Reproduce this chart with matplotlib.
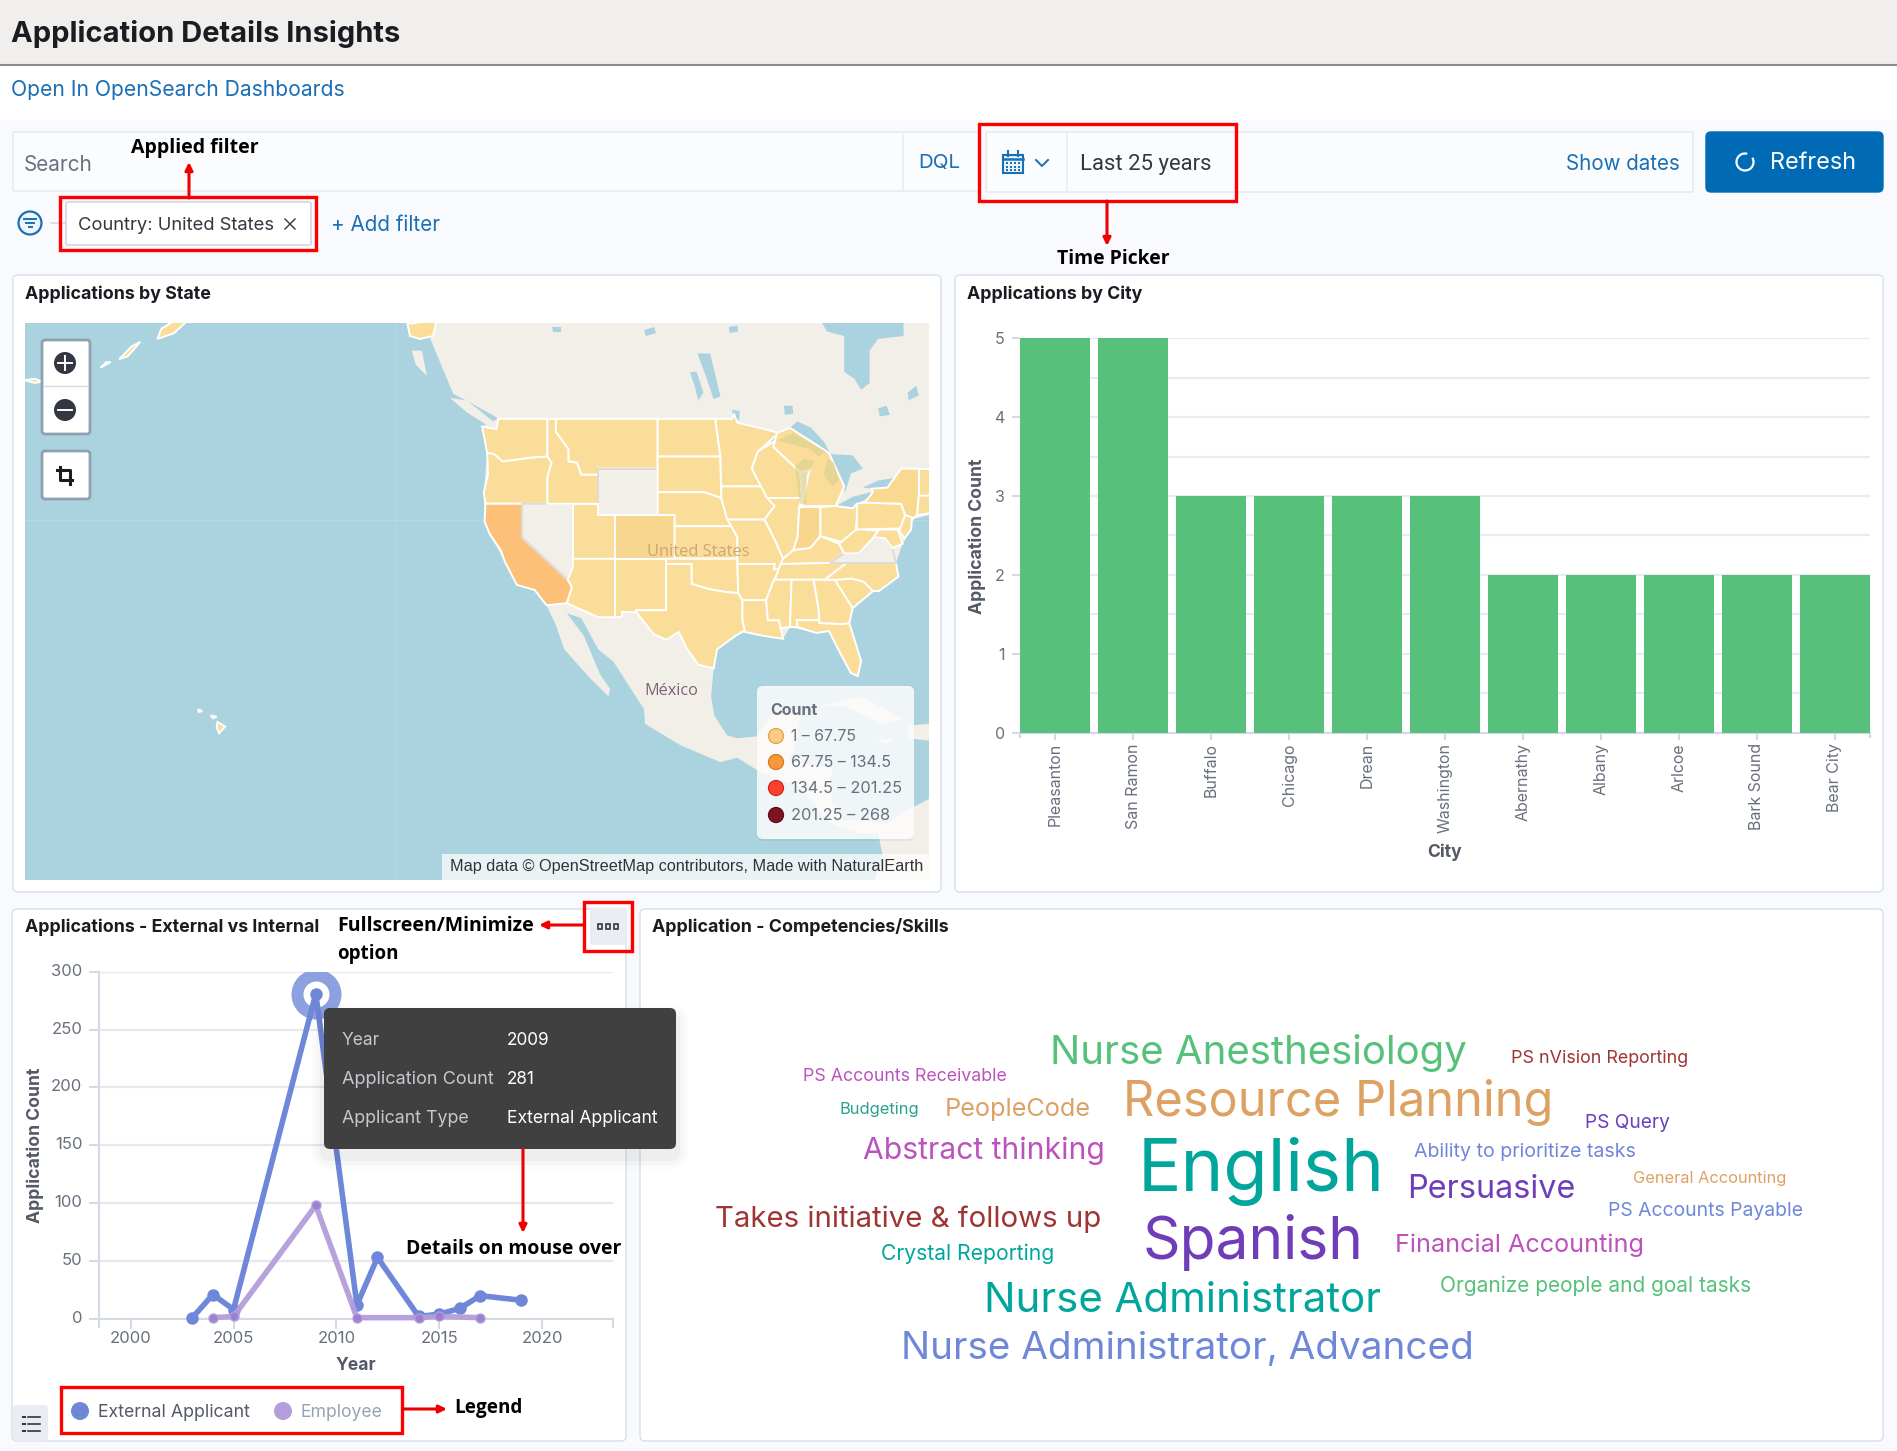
# Application Details Insights dashboard screenshot
import numpy as np
import matplotlib
matplotlib.use('Agg')
import matplotlib.pyplot as plt
from matplotlib.patches import FancyBboxPatch, Rectangle, Circle
from matplotlib.transforms import ScaledTranslation

W, H = 1897, 1451
plt.rcParams['font.family'] = ['Inter', 'DejaVu Sans']

# chart data
cities = ['Pleasanton', 'San Ramon', 'Buffalo', 'Chicago', 'Drean', 'Washington',
          'Abernathy', 'Albany', 'Arlcoe', 'Bark Sound', 'Bear City']
city_counts = [5, 5, 3, 3, 3, 3, 2, 2, 2, 2, 2]

ext_years = [2003, 2004, 2005, 2009, 2011, 2012, 2014, 2015, 2016, 2017, 2019]
ext_counts = [1, 21, 8, 281, 12, 53, 2, 4, 9, 20, 16]
emp_years = [2004, 2005, 2009, 2011, 2014, 2015, 2017]
emp_counts = [1, 2, 98, 1, 1, 2, 1]

legend_ranges = ['1 – 67.75', '67.75 – 134.5', '134.5 – 201.25', '201.25 – 268']
legend_cols = ['#fdcb83', '#f9983a', '#fd3f2d', '#7f1220']
legend_edges = ['#e0a050', '#d27a20', '#cc2a1a', '#5f0c18']
state_fill = ['#f9dd98', '#fcc078', '#f1402e', '#7f1220']
bucket_edges = [1, 67.75, 134.5, 201.25, 268]

cloud_words = ['Nurse Anesthesiology', 'PS nVision Reporting', 'PS Accounts Receivable', 'Budgeting',
               'PeopleCode', 'Resource Planning', 'PS Query', 'Abstract thinking', 'English',
               'Ability to prioritize tasks', 'General Accounting', 'Persuasive', 'PS Accounts Payable',
               'Takes initiative & follows up', 'Spanish', 'Financial Accounting', 'Crystal Reporting',
               'Nurse Administrator', 'Organize people and goal tasks', 'Nurse Administrator, Advanced']
cloud_cols = ['#57c17b', '#9e3533', '#bc52bc', '#2ba08e', '#dda163', '#dda163', '#6a3fc0', '#bc52bc',
              '#00a69b', '#6f87d8', '#dda163', '#6f3db8', '#6f87d8', '#9e3533', '#6f3db8', '#bc52bc',
              '#00a69b', '#00a69b', '#57c17b', '#6f87d8']
# left, right, centre y in the 1568 wide view
cloud_x0 = [868, 1249, 664, 694, 781, 928, 1310, 713, 940, 1169, 1350, 1163, 1329, 591, 944, 1153, 728, 813, 1190, 745]
cloud_x1 = [1214, 1396, 833, 760, 902, 1284, 1380, 913, 1145, 1353, 1477, 1302, 1490, 911, 1127, 1359, 871, 1141, 1448, 1219]
cloud_y = [868, 874, 889, 916, 916, 909, 927, 950, 965, 951, 973, 982, 1000, 1006, 1024, 1028, 1035, 1073, 1062, 1113]

# rough state outlines, lon/lat
states = {
    'WA': [(-124.7,48.4),(-123,48.2),(-122.8,49),(-117,49),(-117,46),(-119,45.9),(-121,45.7),(-122.3,45.6),(-123.3,46.2),(-124.1,46.3)],
    'OR': [(-124.1,46.3),(-123.3,46.2),(-122.3,45.6),(-121,45.7),(-119,45.9),(-117,46),(-116.5,45.5),(-117,44.3),(-117,42),(-124.3,42),(-124.5,43),(-124,44.5)],
    'CA': [(-124.3,42),(-120,42),(-120,39),(-114.6,35),(-114.1,34.3),(-114.7,32.7),(-117.1,32.5),(-118.5,34),(-120.6,34.5),(-122,36.7),(-122.5,37.8),(-123.8,39.3),(-124.4,40.4)],
    'NV': [(-120,42),(-114,42),(-114,36.2),(-114.6,35),(-120,39)],
    'ID': [(-117,49),(-116,49),(-116,48),(-114.5,46.6),(-114.5,45.6),(-113.5,45.5),(-113,44.5),(-111,44.5),(-111,42),(-117,42),(-117,44.3),(-116.5,45.5),(-117,46)],
    'MT': [(-116,49),(-104,49),(-104,45),(-111,45),(-111,44.5),(-113,44.5),(-113.5,45.5),(-114.5,45.6),(-114.5,46.6),(-116,48)],
    'WY': [(-111,45),(-104,45),(-104,41),(-111,41)],
    'UT': [(-114,42),(-111,42),(-111,41),(-109,41),(-109,37),(-114,37)],
    'CO': [(-109,41),(-102,41),(-102,37),(-109,37)],
    'AZ': [(-114,37),(-109,37),(-109,31.3),(-111,31.3),(-114.7,32.7),(-114.1,34.3),(-114.6,35),(-114,36.2)],
    'NM': [(-109,37),(-103,37),(-103,32),(-106.5,32),(-106.5,31.8),(-108.2,31.8),(-108.2,31.3),(-109,31.3)],
    'ND': [(-104,49),(-97.2,49),(-96.6,46),(-104,46)],
    'SD': [(-104,46),(-96.6,46),(-96.5,42.5),(-98.5,43),(-104,43)],
    'NE': [(-104,43),(-98.5,43),(-96.5,42.5),(-95.3,40),(-102,40),(-102,41),(-104,41)],
    'KS': [(-102,40),(-95.3,40),(-94.6,39),(-94.6,37),(-102,37)],
    'OK': [(-103,37),(-94.6,37),(-94.5,33.7),(-96,33.8),(-98,34.1),(-100,34.6),(-100,36.5),(-103,36.5)],
    'TX': [(-106.5,32),(-103,32),(-103,36.5),(-100,36.5),(-100,34.6),(-98,34.1),(-96,33.8),(-94.5,33.7),(-94,33),(-94,31),(-93.7,30),(-95,29.3),(-97,28),(-97.4,26),(-99.2,26.4),(-100.5,28),(-101.5,29.8),(-103,29),(-104.5,29.6),(-106.5,31.8)],
    'MN': [(-97.2,49),(-95.2,49),(-95,49.4),(-94.6,48.7),(-92,48.3),(-89.7,47.9),(-92.2,46.4),(-92.9,45),(-91.3,43.5),(-96.5,43.5),(-96.6,46)],
    'IA': [(-96.5,43.5),(-91.3,43.5),(-90.2,41.8),(-91.4,40.6),(-95.8,40.6),(-96.5,42.5)],
    'MO': [(-95.8,40.6),(-91.4,40.6),(-90.2,38.8),(-89.2,37),(-89.5,36),(-90.3,36),(-90.2,36.5),(-94.6,36.5),(-94.6,39),(-95.3,40)],
    'AR': [(-94.6,36.5),(-90.2,36.5),(-90.3,36),(-89.7,36),(-91.2,33),(-94,33),(-94.5,33.7)],
    'LA': [(-94,33),(-91.2,33),(-91,31),(-89.7,31),(-89.5,30.2),(-89.2,29.1),(-91.5,29.4),(-93.7,29.8),(-94,31)],
    'MI': [(-88.4,48.3),(-83.8,46.3),(-82,43.5),(-83,41.8),(-87,41.8),(-86.1,44.9),(-87.2,44.7),(-90.4,46.8),(-89.9,47.9)],
    'WI': [(-90.1,47.3),(-90.4,46.8),(-87.2,44.7),(-87,42.5),(-91.1,42.5),(-92.9,45),(-92.2,46.4)],
    'IL': [(-91.1,42.5),(-87,42.5),(-87.3,41.7),(-87.5,39),(-88,37.8),(-89.2,37),(-90.2,38.8),(-91.4,40.6),(-90.2,41.8)],
    'IN': [(-87.3,41.7),(-84.8,41.7),(-84.8,39.1),(-86,38),(-88,37.8),(-87.5,39)],
    'OH': [(-84.8,41.7),(-83,41.8),(-81,41.6),(-80.5,42),(-80.5,41),(-80.6,39.7),(-82,38.5),(-84.8,39.1)],
    'KY': [(-89.2,37),(-88,37.8),(-86,38),(-84.8,39.1),(-82.6,38.4),(-82,37.5),(-83.7,36.6),(-89.5,36.5)],
    'TN': [(-90.2,35),(-89.5,36.5),(-83.7,36.6),(-81.7,36.6),(-84.3,35)],
    'MS': [(-91.2,33),(-90.3,35),(-88.2,35),(-88.4,30.3),(-89.5,30.2),(-89.7,31),(-91,31)],
    'AL': [(-88.2,35),(-85.6,35),(-85,32),(-85,31),(-87.6,31),(-87.5,30.3),(-88.4,30.3)],
    'GA': [(-85.6,35),(-83.1,35),(-81,32.2),(-81.4,30.7),(-82.2,30.6),(-84.9,30.7),(-85,32)],
    'FL': [(-87.6,31),(-85,31),(-84.9,30.7),(-82.2,30.6),(-81.4,30.7),(-80,26.8),(-80.4,25.2),(-81.2,25.5),(-82.7,28),(-83.8,29.9),(-85.3,29.7),(-87.5,30.3)],
    'SC': [(-83.1,35),(-81,35.1),(-79.7,34.8),(-78.6,33.9),(-81,32.2)],
    'NC': [(-84.3,35),(-81.7,36.6),(-75.9,36.6),(-75.6,35.3),(-77.9,33.9),(-78.6,33.9),(-79.7,34.8),(-81,35.1),(-83.1,35)],
    'VA': [(-83.7,36.6),(-82,37.5),(-80.3,37.5),(-78.5,39),(-77.2,38.9),(-76.3,37.9),(-75.9,36.6),(-81.7,36.6)],
    'WV': [(-82,37.5),(-82.6,38.4),(-80.6,39.7),(-80.5,40.6),(-79.5,39.7),(-78,39.6),(-78.5,39),(-80.3,37.5)],
    'PA': [(-80.5,42),(-79.6,42.1),(-75.3,42),(-74.8,41),(-75.4,39.8),(-80.5,39.7)],
    'NY': [(-79.6,42.1),(-78.6,43),(-78.8,43.3),(-76.9,43.4),(-75.3,45),(-73.2,45),(-73.2,42.5),(-73.4,41),(-74,40.6),(-74.8,41),(-75.3,42)],
    'MD': [(-79.5,39.7),(-75.7,39.7),(-75.1,38.4),(-76.3,38),(-77.2,38.9),(-78.5,39),(-78,39.6)],
    'NJ': [(-74.8,41),(-74,40.8),(-74.1,39.7),(-74.9,38.9),(-75.5,39.6)],
    'VT': [(-73.2,45),(-71.5,45),(-71.5,42.7),(-73.2,42.7)],
    'MA': [(-73.2,42.7),(-71.5,42.7),(-71.5,41.2),(-73.4,41)],
    'AK': [(-159.5,56),(-161,55.2),(-163,54.8),(-162.5,55.5),(-161,56)],
    'AK2': [(-133.5,55.8),(-131,56),(-130.1,55.9),(-130.5,55),(-132,54.8),(-133.2,55)],
    'AK3': [(-165,54.6),(-166.5,53.6),(-167.5,53.4),(-166,54.3)],
    'AK4': [(-168.5,53.2),(-169.7,52.8),(-169,53.2)],
    'AK5': [(-178.6,51.9),(-177.5,51.7),(-176.5,51.8),(-177.5,52)],
    'HI': [(-155.9,20.2),(-155,19.7),(-155.7,18.95),(-156,19.6)],
    'HI2': [(-156.7,20.9),(-156,20.8),(-156.4,20.6)],
    'HI3': [(-158.2,21.6),(-157.7,21.4),(-158.1,21.3)],
}
# estimated counts per state, states missing here have no data
state_counts = {s: 20 for s in states}
state_counts['CA'] = 100
for s in ['WY', 'NV', 'VA']:
    state_counts.pop(s)
# slightly stronger shades seen inside the lowest bucket
state_tint = {'CO': '#f7d78f', 'IN': '#f8d68e', 'NY': '#f9d88f'}

land = [(-131,57),(-130.8,54.8),(-128.1,50.9),(-126,50.2),(-123.2,49.2),(-122.8,49),(-124.7,48.4),(-124.1,46.3),(-124.5,43),(-124.4,40.4),
        (-123.8,39.3),(-122,36.7),(-120.6,34.5),(-118.5,34),(-117.1,32.5),(-116,30.5),(-115,28),(-112,25),(-109.8,23),
        (-109.6,23.8),(-110.8,25.4),(-112.7,29.4),(-114.7,31.7),(-113,31.2),(-111,28),(-109.2,26.7),(-105.6,21.6),(-105.5,20),
        (-101.3,17.6),(-96.6,15.7),(-94.6,16.2),(-92.3,14.8),(-90,13.8),(-87.5,13),(-85.5,11),(-85,10),(-83,8.3),(-80,7.5),
        (-78,7.5),(-77.5,5),(-78.5,1.5),(-71,1.5),(-71,12),(-75.3,9.8),(-77,8.5),(-80,9),(-82,9),(-83.5,11),(-83.5,15),
        (-88.5,15.8),(-88,17),(-87,21.5),(-90.5,21),(-92.3,18.6),(-94.6,18.4),(-95.8,18.7),(-97.3,20.9),(-97.7,23),(-97.4,26),
        (-97,28),(-95,29.3),(-93.7,29.8),(-91.5,29.4),(-89.2,29.1),(-88.4,30.3),(-85.3,29.7),(-83.8,29.9),(-82.7,28),(-81.2,25.5),
        (-80.4,25.2),(-80,26.8),(-81.4,30.7),(-81,32.2),(-78.6,33.9),(-75.6,35.3),(-75.9,36.6),(-75.1,38.4),(-74.1,39.7),(-74,40.6),
        (-72,41),(-71,41),(-71,57)]
islands = [[(-85,21.9),(-80,23),(-75,20.5),(-77.5,20),(-82,22)],
           [(-74.5,19.8),(-72,20),(-71,18),(-74.5,18.4)],
           [(-78.4,18.4),(-76.3,18.2),(-77,17.8)],
           [(-128.5,50.6),(-126.5,50.4),(-123.4,48.8),(-124.1,48.5),(-126.5,49.5)],
           [(-133,54),(-131.8,54),(-131.2,52.2),(-132.5,53)]]
water = [[(-85.9,57),(-84,55.3),(-82,55),(-82,52.5),(-80.8,52),(-80,51.2),(-79,51.7),(-79,54),(-78,54.8),(-75,55),(-75,57)],
         [(-99.3,53.8),(-97.8,53.8),(-96.6,50.7),(-97.4,50.5),(-98.2,52)],
         [(-100.2,52.5),(-99.4,52.5),(-98.6,51),(-99.2,50.4),(-99.6,51.4)],
         [(-91,47.2),(-88.4,48.3),(-87.5,48.8),(-85.9,48.3),(-84.4,47.2),(-83.6,46.2),(-85,46.3),(-87,47)],
         [(-83.8,46.3),(-83.6,46.2),(-81,46.1),(-79.8,45),(-81.2,44.6),(-81.8,43.2),(-82,43),(-82,43.5)],
         [(-83,41.8),(-81,42.6),(-78.9,43),(-78.9,42.6),(-80.5,42),(-81,41.6)],
         [(-79.8,43.4),(-78,44),(-76.2,44.2),(-76.9,43.4),(-78.8,43.3)],
         [(-89.1,50),(-88.1,50),(-88,49.4),(-89,49.3)],
         [(-95.2,49.7),(-94.3,49.6),(-94.4,48.9),(-95.1,49)],
         [(-105.6,55.4),(-104.4,55.6),(-104.2,55.2),(-105.4,55)],
         [(-95.6,55.6),(-94.6,55.7),(-94.5,55.3),(-95.5,55.2)],
         [(-116.4,55.6),(-115.4,55.6),(-115.4,55.3),(-116.3,55.3)],
         [(-78,49.8),(-77,50),(-76.6,49.3),(-77.8,49.2)],
         [(-74.5,51),(-73.5,51.5),(-73.2,50.8),(-74.4,50.4)]]
# lake water that shows through the Michigan and Wisconsin fills
lake_tint = [[(-88,47.9),(-84.2,46.4),(-85,46),(-86,46.6),(-89.9,47.3)],
             [(-87.8,45.2),(-86.8,45.8),(-85.5,45.6),(-86.4,44.5),(-86.5,42),(-87.2,42),(-87.6,44)],
             [(-84,45.8),(-83.2,45.5),(-82.6,44),(-83.4,43.5),(-84.4,44.5)]]


def merc(lat):
    return np.log(np.tan(np.pi / 4 + np.radians(lat) / 2))


def px_axes(x0, y0, x1, y1, **kw):
    return fig.add_axes([x0 / W, 1 - y1 / H, (x1 - x0) / W, (y1 - y0) / H], **kw)


def txt(a, x0, y, s, x1=None, size=16, color='#343741', weight='normal', family=None, ha='left'):
    # size in pixels, if x1 is given scale the text to fit x0..x1
    kw = {'family': family} if family else {}
    t = a.text(x0, y, s, fontsize=size * 0.72, color=color, fontweight=weight, va='center', ha=ha, **kw)
    if x1 is not None:
        r = fig.canvas.get_renderer()
        w = t.get_window_extent(r).width
        t.set_fontsize(t.get_fontsize() * (x1 - x0) / w)
    if a in (bg, ov):
        # va=center sits a bit high against the screenshot
        t.set_y(y + 0.06 * t.get_fontsize() / 0.72)
    return t


def box(a, x0, y0, x1, y1, fc='white', ec='#d3dae6', lw=1, r=4, z=2, alpha=None):
    p = FancyBboxPatch((x0 + r, y0 + r), x1 - x0 - 2 * r, y1 - y0 - 2 * r, boxstyle=f'round,pad={r},rounding_size={r}',
                       fc=fc, ec=ec, lw=lw, zorder=z, alpha=alpha)
    a.add_patch(p)
    return p


def red_box(x0, y0, x1, y1):
    ov.add_patch(Rectangle((x0, y0), x1 - x0, y1 - y0, fc='none', ec='#fe0000', lw=2.4, zorder=20))


def red_arrow(x0, y0, x1, y1):
    ov.annotate('', xy=(x1, y1), xytext=(x0, y0), zorder=20,
                arrowprops=dict(arrowstyle='-|>,head_width=0.22,head_length=0.45', color='#ee0000', lw=2.2,
                                shrinkA=0, shrinkB=0))


fig = plt.figure(figsize=(W / 100, H / 100), dpi=100, facecolor='#f8fafd')

# background layer, pixel coordinates
bg = px_axes(0, 0, W, H, zorder=0)
bg.set_xlim(0, W)
bg.set_ylim(H, 0)
bg.axis('off')
ov = px_axes(0, 0, W, H, zorder=5)
ov.set_xlim(0, W)
ov.set_ylim(H, 0)
ov.axis('off')
ov.patch.set_alpha(0)

bg.add_patch(Rectangle((0, 0), W, 65, fc='#f1efed', ec='none'))
bg.add_patch(Rectangle((0, 65), W, 55, fc='white', ec='none'))
bg.plot([0, W], [65, 65], color='#8c8a88', lw=1.5)

blue = '#1a6fb5'
txt(bg, 11, 32, 'Application Details Insights', 400, size=30, color='#1a1c21', weight='bold')
txt(bg, 11, 89, 'Open In OpenSearch Dashboards', 344, size=22, color=blue)

# query bar
box(bg, 13, 132, 980, 191, fc='#fbfcfd', ec='#e3e8f0', r=1)
bg.plot([903, 903], [134, 189], color='#e9edf3', lw=1.2, zorder=3)
txt(bg, 24, 164, 'Search', 93, size=22, color='#69707d', weight='normal').set_zorder(4)
txt(bg, 918, 162, 'DQL', 960, size=21, color=blue).set_zorder(4)
box(bg, 986, 132, 1693, 192, fc='#fbfcfd', ec='#e3e8f0', r=1, z=3)
bg.plot([1067, 1067], [134, 190], color='#e9edf3', lw=1.2, zorder=4)
bg.add_patch(Rectangle((1003, 155), 20, 18, fc='#eaf3fa', ec=blue, lw=1.5, zorder=4))
bg.plot([1003, 1023], [159, 159], color=blue, lw=1.8, zorder=4)
bg.plot([1008, 1008], [151, 156], color=blue, lw=1.5, zorder=5)
bg.plot([1018, 1018], [151, 156], color=blue, lw=1.5, zorder=5)
for gy in [163, 166.5, 170]:
    for gx in [1007, 1011, 1015, 1019]:
        bg.add_patch(Rectangle((gx - 1, gy - 1), 2, 2, fc=blue, ec='none', zorder=5))
bg.plot([1036, 1042, 1048], [160, 166, 160], color=blue, lw=1.4, zorder=4)
txt(bg, 1080, 163, 'Last 25 years', 1212, size=21, color='#343741', family='Roboto').set_zorder(5)
txt(bg, 1566, 163, 'Show dates', 1680, size=21, color=blue).set_zorder(5)
box(bg, 1706, 132, 1883, 192, fc='#006bb4', ec='#006bb4', r=5)
bg.add_patch(matplotlib.patches.Arc((1745, 162), 17, 17, theta1=-30, theta2=285, ec='white', lw=1.6, zorder=5))
txt(bg, 1770, 162, 'Refresh', 1856, size=24, color='white').set_zorder(5)

# filter row
bg.add_patch(Circle((30, 223), 11.5, fc='#eef5fb', ec=blue, lw=1.6, zorder=3))
for dy, hw in zip([-4, 0, 4], [6, 4, 1.5]):
    bg.plot([30 - hw, 30 + hw], [223 + dy, 223 + dy], color=blue, lw=1.4, zorder=4)
bg.plot([51, 66], [223, 223], color='#d3dae6', lw=1.2)
box(bg, 66, 202, 311, 245, fc='white', ec='#c9d0dc', r=2)
txt(bg, 78, 224, 'Country: United States', 275, size=18, color='#343741').set_zorder(5)
bg.plot([285, 295], [219, 229], color='#343741', lw=1, zorder=5)
bg.plot([285, 295], [229, 219], color='#343741', lw=1, zorder=5)
txt(bg, 331, 224, '+ Add filter', 440, size=21, color=blue)

# panels
for x0, y0, x1, y1 in [(13, 275, 941, 892), (955, 275, 1883, 892), (12, 909, 626, 1441), (640, 909, 1883, 1441)]:
    box(bg, x0, y0, x1, y1, fc='white', ec='#d8dfea', r=5)
txt(bg, 25, 293, 'Applications by State', 211, size=18, color='#1a1c21', weight='bold').set_zorder(5)
txt(bg, 967, 293, 'Applications by City', 1142, size=18, color='#1a1c21', weight='bold').set_zorder(5)
txt(bg, 25, 926, 'Applications - External vs Internal', 319, size=18, color='#1a1c21', weight='bold').set_zorder(5)
txt(bg, 652, 926, 'Application - Competencies/Skills', 949, size=18, color='#1a1c21', weight='bold').set_zorder(5)

# map
mp = px_axes(25, 323, 929, 880, zorder=1)
mp.set_xlim(-178.6, -72)
mp.set_ylim(0.035, 1.181)
mp.axis('off')
mp.add_patch(Rectangle((-178.6, 0.035), 106.6, 1.146, fc='#aad3df', ec='none', zorder=0))
mp.axvline(-135, color='#b4d8e2', lw=1, zorder=0.5)
mp.axhline(merc(40.6), color='#b4d8e2', lw=1, zorder=0.5)
land_col = '#f2efe9'
mp.fill([p[0] for p in land], merc(np.array([p[1] for p in land])), fc=land_col, ec='none', zorder=1)
for isl in islands:
    mp.fill([p[0] for p in isl], merc(np.array([p[1] for p in isl])), fc=land_col, ec='none', zorder=1)
for lake in water:
    mp.fill([p[0] for p in lake], merc(np.array([p[1] for p in lake])), fc='#aad3df', ec='none', zorder=1.5)
for name, pts in states.items():
    if name in state_counts:
        b = np.searchsorted(bucket_edges, state_counts[name], side='left') - 1
        fc = state_tint.get(name, state_fill[max(b, 0)])
    else:
        fc = land_col
    mp.fill([p[0] for p in pts], merc(np.array([p[1] for p in pts])), fc=fc,
            ec='white' if name in state_counts else '#dedbd6', lw=1.4, zorder=2)
for t_pts in lake_tint:
    mp.fill([p[0] for p in t_pts], merc(np.array([p[1] for p in t_pts])), fc='#d9d08e', ec='none', alpha=0.6, zorder=2.5)

# map labels
txt(ov, 647, 551, 'United States', 750, size=15, color='#c99a70', family='Open Sans').set_alpha(0.85)
txt(ov, 644, 690, 'México', 698, size=15, color='#7e6378', family='Open Sans')

# map controls
box(ov, 42, 340, 90, 434, fc='white', ec='#8ca2ad', lw=2, r=3)
box(ov, 42, 451, 90, 499, fc='white', ec='#8ca2ad', lw=2, r=3)
ov.plot([44, 88], [386, 386], color='#d3dae6', lw=1, zorder=3)
for cy, sign in [(363, '+'), (410, '-')]:
    ov.add_patch(Circle((65, cy), 11, fc='#343741', ec='none', zorder=3))
    ov.plot([58, 72], [cy, cy], color='white', lw=1.4, zorder=4)
    if sign == '+':
        ov.plot([65, 65], [cy - 7, cy + 7], color='white', lw=1.4, zorder=4)
ov.plot([60, 60, 72], [467, 480, 480], color='#1a1c21', lw=2.2, zorder=3)
ov.plot([57, 70, 70], [470, 470, 484], color='#1a1c21', lw=2.2, zorder=3)

# map legend
box(ov, 757, 688, 914, 841, fc='black', ec='none', r=6, alpha=0.05)
box(ov, 757, 686, 914, 839, fc='white', ec='none', r=6, alpha=0.85)
txt(ov, 770, 710, 'Count', 817, size=17, color='#69707d', weight='bold').set_zorder(5)
for i, (lab, col) in enumerate(zip(legend_ranges, legend_cols)):
    y = [736, 762, 788, 815][i]
    ov.add_patch(Circle((776, y), 7.5, fc=col, ec=legend_edges[i], lw=0.9, zorder=4))
    txt(ov, 791, y, lab, [856, 891, 902, 890][i], size=17, color='#69707d').set_zorder(5)

ov.add_patch(Rectangle((442, 854), 487, 26, fc='white', ec='none', alpha=0.75, zorder=3))
txt(ov, 450, 866, 'Map data © OpenStreetMap contributors, Made with NaturalEarth', 922, size=16,
    color='#333333', family='Liberation Sans').set_zorder(4)

# bar chart
bar_col = '#57c17b'
ax = px_axes(1020, 338.3, 1870, 732.6, zorder=1)
ax.patch.set_alpha(0)
xpos = np.arange(len(cities))
ax.set_axisbelow(True)
ax.bar(xpos, city_counts, width=0.9, color=bar_col, zorder=3)
ax.set_xlim(-0.45, len(cities) - 0.55)
ax.set_ylim(0, 5)
ax.set_yticks(range(6))
ax.set_yticks(np.arange(0.5, 5, 0.5), minor=True)
ax.set_xticks(xpos)
ax.set_xticklabels(cities, rotation=90, fontsize=11.5, color='#69707d')
ax.tick_params(axis='x', length=5, color='#d3dae6', width=1.5, pad=2.5)
ax.tick_params(axis='y', length=6, color='#d3dae6', width=1.5, pad=5, labelsize=11.5, labelcolor='#69707d')
ax.tick_params(axis='y', which='minor', length=0)
ax.grid(True, axis='y', which='both', color='#e9ebef', lw=1.6, zorder=0)
for s in ['top', 'right', 'left']:
    ax.spines[s].set_visible(False)
ax.spines['bottom'].set_color('#d3dae6')
ax.spines['bottom'].set_linewidth(1.5)
for xe in ax.get_xlim():
    ax.plot([xe, xe], [0, -0.06], color='#d3dae6', lw=1.5, clip_on=False)
txt(ov, 1445, 851, 'City', size=17.5, color='#535966', weight='bold', ha='center')
ov.text(977, 536, 'Application Count', rotation=90, fontsize=12.7, fontweight='bold', color='#535966',
        ha='center', va='center')

# line chart
ext_col = '#6f87d8'
emp_col = '#b39ddb'
lx = px_axes(99, 971.7, 613, 1318.8, zorder=1)
lx.patch.set_alpha(0)
lx.set_axisbelow(True)
lx.set_xlim(1998.46, 2023.45)
lx.set_ylim(0, 300)
lx.set_yticks(range(0, 301, 50))
lx.set_xticks(range(2000, 2021, 5))
lx.grid(True, axis='y', color='#e6e8ec', lw=1.6)
lx.tick_params(axis='y', length=7, color='#d3dae6', width=1.5, pad=5, labelsize=12, labelcolor='#69707d')
lx.tick_params(axis='x', length=7, color='#d3dae6', width=1.5, pad=1.5, labelsize=12, labelcolor='#69707d')
# y labels sit a little above their grid lines in the screenshot
nudge = ScaledTranslation(0, 2 / 100, fig.dpi_scale_trans)
for lab in lx.get_yticklabels():
    lab.set_transform(lab.get_transform() + nudge)
for s in ['top', 'right']:
    lx.spines[s].set_visible(False)
for s in ['left', 'bottom']:
    lx.spines[s].set_color('#d3dae6')
    lx.spines[s].set_linewidth(1.5)
lx.plot([2023.45, 2023.45], [0, -7], color='#d3dae6', lw=1.5, clip_on=False)
lx.plot([1998.46, 1998.46], [0, -7], color='#d3dae6', lw=1.5, clip_on=False)
lx.scatter([ext_years[3]], [ext_counts[3]], s=1296, color='#8da0e0', zorder=2, linewidths=0)
lx.scatter([ext_years[3]], [ext_counts[3]], s=350, color='white', zorder=2.1, linewidths=0)
lx.plot(ext_years, ext_counts, color=ext_col, lw=4, marker='o', ms=8, zorder=3, solid_capstyle='round', clip_on=False)
lx.plot(emp_years, emp_counts, color=emp_col, lw=4, marker='o', ms=6.5, mfc='#9a7fd1', mec='#b39ddb', zorder=4,
        alpha=0.95, clip_on=False)
ov.text(35, 1145, 'Application Count', rotation=90, fontsize=12.7, fontweight='bold', color='#535966',
        ha='center', va='center')
txt(ov, 356, 1364, 'Year', size=17.5, color='#535966', weight='bold', ha='center')

# chart legend
ov.add_patch(Circle((80, 1411), 9, fc=ext_col, ec='none', zorder=3))
txt(ov, 98, 1411, 'External Applicant', 250, size=18, color='#535966').set_zorder(4)
ov.add_patch(Circle((283, 1411), 9, fc=emp_col, ec='none', zorder=3))
txt(ov, 301, 1411, 'Employee', 383, size=18, color='#98a2b3').set_zorder(4)
box(ov, 13, 1405, 48, 1441, fc='#e9edf3', ec='none', r=3)
for dy in [-7, 0, 7]:
    ov.plot([23, 25], [1424 + dy, 1424 + dy], color='#343741', lw=1.5, zorder=4)
    ov.plot([28, 40], [1424 + dy, 1424 + dy], color='#343741', lw=1.2, zorder=4)

# button at panel corner
box(ov, 590, 908, 627, 945, fc='#e9edf3', ec='none', r=4)
for dx in [-8, 0, 8]:
    ov.add_patch(Rectangle((608 + dx - 2, 924), 4, 5, fc='#e9edf3', ec='#343741', lw=1.2, zorder=4))

# tooltip
for grow, al in [(12, 0.015), (8, 0.02), (4, 0.03)]:
    box(ov, 324 - grow, 1008 - grow + 8, 676 + grow, 1149 + grow + 8, fc='black', ec='none', r=6 + grow, z=5, alpha=al)
box(ov, 324, 1008, 676, 1149, fc='#404040', ec='none', r=6, z=6)
tip_keys = ['Year', 'Application Count', 'Applicant Type']
tip_vals = ['2009', '281', 'External Applicant']
tip_key_x1 = [380, 494, 469]
tip_val_x1 = [550, 535, 658]
for i, ty in enumerate([1039.5, 1078.5, 1117]):
    txt(ov, 342, ty, tip_keys[i], tip_key_x1[i], size=18, color='#c5c8ce').set_zorder(7)
    txt(ov, 507, ty, tip_vals[i], tip_val_x1[i], size=18, color='white').set_zorder(7)

# word cloud
s = W / 1568
for w, c, a, b, y in zip(cloud_words, cloud_cols, cloud_x0, cloud_x1, cloud_y):
    txt(ov, a * s, y * s, w, b * s, size=24, color=c)

# red annotations
note = dict(color='black', weight='bold', family='Open Sans')
txt(ov, 131, 147, 'Applied filter', 258, size=20, **note).set_zorder(21)
red_box(60, 197, 316, 250)
red_arrow(189, 198, 189, 162)
red_box(979, 124, 1236, 201)
red_arrow(1107, 201, 1107, 246)
txt(ov, 1057, 258, 'Time Picker', 1169, size=20, **note).set_zorder(21)
red_box(584, 902, 632, 951)
red_arrow(584, 925, 539, 925)
txt(ov, 337, 925, 'Fullscreen/Minimize', 533, size=20, **note).set_zorder(21)
txt(ov, 337, 953, 'option', 398, size=20, **note).set_zorder(21)
red_arrow(523, 1149, 523, 1233)
txt(ov, 406, 1248, 'Details on mouse over', 621, size=20, **note).set_zorder(21)
red_box(61, 1387, 402, 1433)
red_arrow(403, 1409, 447, 1409)
txt(ov, 454, 1407, 'Legend', 522, size=20, **note).set_zorder(21)

fig.savefig('out.png', dpi=100, facecolor=fig.get_facecolor())
